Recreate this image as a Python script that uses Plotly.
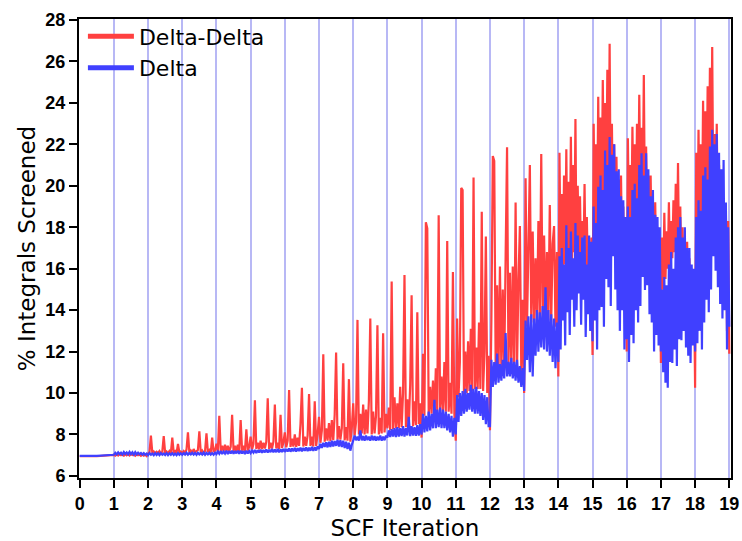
import plotly.graph_objects as go

# ---- axis ticks ----
x_ticks = list(range(0, 20))
y_ticks = [6, 8, 10, 12, 14, 16, 18, 20, 22, 24, 26, 28]

# ---- Delta-Delta (red), one list per SCF iteration ----
dd_00 = [6.95, 6.95]
dd_01 = [7.02, 6.98, 7.05, 6.99, 7.06, 7.0, 7.04, 6.98, 7.07, 7.0, 7.05, 6.99,
         7.06, 7.01, 7.04, 6.98, 7.05, 7.0, 7.03, 6.97, 7.04, 6.98, 7.02, 6.96]
dd_02 = [7.08, 7.15, 7.95, 7.1, 7.18, 7.08, 7.16, 7.1, 7.2, 7.08, 7.17, 7.92,
         7.1, 7.18, 7.09, 7.2, 7.1, 7.85, 7.12, 7.2, 7.1, 7.55, 7.12, 7.18]
dd_03 = [7.1, 7.2, 7.12, 7.28, 8.1, 7.12, 7.22, 7.1, 7.3, 7.12, 7.2, 7.25,
         8.15, 7.12, 7.22, 7.1, 7.2, 8.05, 7.15, 7.25, 7.12, 7.85, 7.15, 7.22]
dd_04 = [7.55, 7.2, 8.9, 7.2, 7.45, 7.18, 7.5, 7.2, 7.45, 7.18, 7.4, 8.95,
         7.2, 7.45, 7.18, 7.5, 7.2, 8.7, 7.22, 7.45, 7.2, 8.25, 7.22, 7.4]
dd_05 = [7.9, 7.28, 7.55, 9.65, 7.3, 7.6, 7.28, 7.7, 7.3, 7.6, 7.32, 7.65,
         9.75, 7.3, 7.6, 7.32, 7.65, 9.45, 7.33, 7.6, 7.3, 8.95, 7.35, 7.6]
dd_06 = [8.1, 7.38, 7.7, 10.15, 7.4, 7.8, 7.42, 8.0, 7.4, 7.85, 7.45, 8.5,
         10.25, 7.42, 7.9, 7.45, 7.95, 9.95, 7.45, 7.9, 7.42, 9.6, 7.45, 8.0]
dd_07 = [8.85, 7.6, 8.2, 11.87, 7.65, 8.3, 7.7, 8.55, 7.68, 8.7, 7.72, 8.95,
         11.95, 7.75, 8.4, 7.75, 8.3, 11.44, 7.72, 8.35, 7.7, 10.67, 7.65, 8.3]
dd_08 = [9.5, 7.95, 8.6, 13.53, 8.0, 9.0, 8.05, 9.45, 8.0, 9.2, 8.05, 9.6,
         13.6, 8.0, 9.1, 8.05, 8.9, 13.27, 8.0, 8.8, 8.05, 12.89, 8.1, 9.0]
dd_09 = [8.3, 9.3, 8.2, 15.38, 8.25, 9.8, 8.3, 9.5, 8.3, 10.3, 8.35, 10.0,
         15.7, 8.35, 9.7, 8.4, 10.4, 14.72, 8.4, 9.6, 8.45, 13.9, 8.5, 9.5]
dd_10 = [7.85, 11.9, 8.9, 18.24, 17.95, 8.95, 10.3, 9.0, 10.6, 9.05, 11.2, 9.1,
         18.58, 9.1, 10.8, 9.15, 11.5, 9.1, 17.34, 9.1, 10.5, 9.0, 15.84, 9.0]
dd_11 = [7.7, 13.6, 9.8, 11.5, 19.9, 19.8, 9.9, 12.0, 10.0, 12.5, 10.1, 13.1,
         10.1, 20.4, 10.2, 12.2, 10.2, 13.4, 10.2, 18.75, 10.1, 12.0, 17.55, 10.0, 11.8]
dd_12 = [8.2, 13.5, 21.44, 21.2, 11.2, 15.2, 11.0, 16.1, 11.2, 15.0, 11.1, 16.6,
         21.86, 11.3, 15.8, 11.2, 16.1, 11.3, 19.2, 11.2, 15.4, 18.06, 11.0, 14.5]
dd_13 = [10.0, 20.36, 13.2, 17.0, 21.0, 13.4, 17.8, 13.3, 16.5, 13.5, 18.3, 13.6,
         21.53, 13.6, 17.6, 13.5, 16.8, 13.5, 19.07, 13.4, 17.2, 18.06, 13.2, 16.8]
dd_14 = [10.8, 21.6, 16.0, 19.6, 15.5, 20.5, 16.2, 21.76, 15.8, 20.2, 16.5, 22.37,
         16.0, 21.0, 16.8, 23.22, 16.2, 20.0, 16.5, 19.5, 16.0, 18.3, 16.3, 20.09,
         15.8, 18.5, 15.5, 17.2, 15.2, 17.5]
dd_15 = [11.84, 23.0, 17.5, 22.0, 18.0, 24.3, 18.5, 23.3, 19.0, 25.1, 19.5, 24.0,
         19.5, 25.6, 19.0, 26.85, 18.5, 23.0, 18.0, 22.0, 17.5, 21.4, 17.0, 20.3,
         16.5, 20.5, 16.0, 19.0, 15.5, 18.5]
dd_16 = [12.0, 22.3, 18.0, 21.0, 17.5, 22.85, 18.5, 22.0, 18.0, 23.0, 19.0, 24.4,
         19.5, 22.8, 19.0, 25.35, 18.5, 21.9, 18.0, 20.5, 17.0, 20.5, 16.5, 19.0,
         16.0, 19.2, 15.5, 18.0, 15.0, 17.5]
dd_17 = [11.45, 17.5, 15.0, 18.7, 15.5, 17.8, 16.0, 19.2, 15.8, 18.3, 16.5, 19.3,
         16.8, 20.1, 16.5, 21.1, 16.0, 19.0, 15.5, 18.0, 15.0, 17.1, 14.8, 17.3,
         14.5, 16.5, 14.2, 16.0, 14.0, 15.5]
dd_18 = [10.25, 21.6, 17.0, 22.7, 17.5, 22.0, 18.0, 24.1, 18.5, 23.6, 19.0, 24.8,
         19.5, 25.7, 19.5, 26.7, 19.0, 22.5, 18.5, 23.0, 18.0, 21.0, 17.0, 20.5,
         16.5, 19.0, 15.5, 18.8, 13.0, 18.3]
dd_19 = [11.9]

# ---- Delta (blue), one list per SCF iteration ----
d_00 = [6.97, 6.97]
d_01 = [7.02, 7.12, 7.04, 7.14, 7.05, 7.12, 7.03, 7.15, 7.06, 7.13, 7.04, 7.16,
        7.05, 7.14, 7.03, 7.15, 7.04, 7.12, 7.05, 7.11, 7.03, 7.1, 7.02, 7.08]
d_02 = [7.0, 7.1, 7.02, 7.08, 7.0, 7.1, 7.01, 7.09, 7.0, 7.1, 7.02, 7.08,
        7.01, 7.1, 7.0, 7.09, 7.02, 7.1, 7.01, 7.08, 7.0, 7.1, 7.02, 7.09]
d_03 = [7.02, 7.1, 7.03, 7.12, 7.02, 7.1, 7.04, 7.12, 7.03, 7.11, 7.02, 7.12,
        7.04, 7.1, 7.03, 7.13, 7.02, 7.11, 7.04, 7.12, 7.03, 7.1, 7.02, 7.12]
d_04 = [7.05, 7.18, 7.07, 7.2, 7.06, 7.18, 7.08, 7.22, 7.06, 7.2, 7.08, 7.22,
        7.07, 7.2, 7.09, 7.22, 7.07, 7.21, 7.08, 7.2, 7.06, 7.22, 7.08, 7.2]
d_05 = [7.1, 7.22, 7.12, 7.25, 7.1, 7.24, 7.13, 7.27, 7.12, 7.25, 7.14, 7.28,
        7.13, 7.26, 7.15, 7.3, 7.14, 7.27, 7.15, 7.3, 7.14, 7.28, 7.16, 7.3]
d_06 = [7.16, 7.3, 7.18, 7.33, 7.17, 7.32, 7.19, 7.35, 7.18, 7.34, 7.2, 7.36,
        7.19, 7.35, 7.21, 7.38, 7.2, 7.36, 7.22, 7.4, 7.21, 7.38, 7.23, 7.42]
d_07 = [7.3, 7.55, 7.35, 7.6, 7.4, 7.62, 7.38, 7.65, 7.4, 7.7, 7.42, 7.68,
        7.45, 7.75, 7.42, 7.72, 7.4, 7.7, 7.35, 7.65, 7.3, 7.6, 7.22, 7.5]
d_08 = [7.7, 7.95, 7.72, 7.9, 7.7, 8.2, 7.72, 7.92, 7.7, 7.95, 7.73, 7.9,
        7.7, 7.95, 7.72, 7.92, 7.7, 7.9, 7.72, 7.95, 7.7, 7.9, 7.72, 7.95]
d_09 = [7.85, 8.2, 7.88, 8.25, 7.9, 8.3, 7.88, 8.35, 7.9, 8.3, 7.92, 8.4,
        7.9, 8.3, 7.95, 8.85, 7.92, 8.4, 7.95, 8.35, 7.93, 8.45, 7.95, 8.5]
d_10 = [8.0, 9.0, 8.1, 8.9, 8.15, 9.1, 8.2, 9.0, 8.3, 9.67, 8.3, 9.2,
        8.35, 9.3, 8.3, 9.2, 8.3, 9.1, 8.2, 9.0, 8.1, 8.9, 7.9, 8.8]
d_11 = [8.0, 9.9, 8.6, 10.0, 8.9, 10.1, 9.0, 10.2, 9.1, 10.0, 9.2, 10.4,
        9.1, 10.2, 9.0, 10.3, 9.0, 10.1, 8.9, 10.0, 8.7, 9.9, 8.5, 9.8, 8.4]
d_12 = [8.4, 11.6, 10.3, 11.5, 10.4, 11.9, 10.5, 11.4, 10.6, 11.6, 10.7, 12.9,
        10.8, 11.5, 10.8, 11.7, 10.7, 11.5, 10.6, 11.6, 10.5, 11.3, 10.3, 11.2]
d_13 = [10.1, 13.5, 11.6, 13.7, 11.0, 13.8, 10.8, 13.6, 11.8, 14.0, 12.0, 13.9,
        12.2, 14.2, 12.1, 15.1, 12.0, 14.0, 11.8, 13.8, 11.5, 13.6, 11.2, 13.4]
d_14 = [11.5, 16.6, 12.1, 17.0, 13.5, 16.2, 12.3, 18.1, 13.9, 17.0, 12.8, 17.8,
        14.5, 16.5, 13.2, 18.2, 14.0, 17.6, 14.8, 16.8, 13.3, 17.5, 14.5, 17.6,
        12.7, 16.2, 13.8, 17.6, 13.0, 17.3]
d_15 = [12.5, 19.0, 13.5, 18.2, 12.1, 19.95, 14.0, 20.5, 14.15, 19.8, 13.2, 21.7,
        15.5, 21.0, 15.1, 22.36, 14.2, 21.5, 16.6, 22.0, 15.0, 20.7, 14.0, 20.8,
        13.0, 19.5, 14.0, 19.3, 12.1, 18.5]
d_16 = [12.6, 19.0, 11.5, 18.5, 12.8, 19.8, 12.4, 20.1, 14.0, 19.4, 13.4, 21.0,
        14.2, 21.57, 15.6, 20.5, 14.97, 21.57, 15.2, 20.8, 13.8, 19.5, 13.4, 19.8,
        12.0, 18.6, 12.8, 18.5, 12.3, 18.0]
d_17 = [12.0, 15.0, 11.0, 15.6, 10.5, 15.2, 10.25, 16.2, 11.5, 16.8, 11.45, 16.0,
        12.1, 17.5, 11.3, 18.0, 12.6, 18.5, 12.55, 17.5, 13.0, 18.0, 12.2, 17.0,
        11.8, 17.0, 11.45, 16.2, 12.3, 16.0]
d_18 = [12.0, 18.5, 12.4, 19.3, 13.0, 18.8, 12.1, 20.5, 13.4, 20.9, 14.5, 20.3,
        13.9, 21.9, 15.0, 22.7, 16.6, 22.0, 15.9, 22.5, 15.1, 21.6, 14.3, 20.8,
        13.6, 21.25, 14.0, 19.2, 12.1, 18.0]
d_19 = [13.2]

dd_iters = [dd_00, dd_01, dd_02, dd_03, dd_04, dd_05, dd_06, dd_07, dd_08, dd_09,
            dd_10, dd_11, dd_12, dd_13, dd_14, dd_15, dd_16, dd_17, dd_18, dd_19]
d_iters = [d_00, d_01, d_02, d_03, d_04, d_05, d_06, d_07, d_08, d_09,
           d_10, d_11, d_12, d_13, d_14, d_15, d_16, d_17, d_18, d_19]

RED = "#ff4040"
BLUE = "#4040ff"


def flatten(iters):
    xs, ys = [], []
    for i, vals in enumerate(iters):
        n = len(vals)
        for k, v in enumerate(vals):
            xs.append(i + k / n)
            ys.append(v)
    return xs, ys


dd_x, dd_y = flatten(dd_iters)
d_x, d_y = flatten(d_iters)

fig = go.Figure()
fig.add_trace(go.Scatter(x=dd_x, y=dd_y, mode="lines", name="Delta-Delta",
                         line=dict(color=RED, width=2.2, simplify=False),
                         showlegend=False))
fig.add_trace(go.Scatter(x=d_x, y=d_y, mode="lines", name="Delta",
                         line=dict(color=BLUE, width=2.2, simplify=False),
                         showlegend=False))
# legend-only entries with thick sample lines
fig.add_trace(go.Scatter(x=[None], y=[None], mode="lines", name="Delta-Delta",
                         line=dict(color=RED, width=5), legendgroup="a"))
fig.add_trace(go.Scatter(x=[None], y=[None], mode="lines", name="Delta",
                         line=dict(color=BLUE, width=5), legendgroup="b"))

tick_font = dict(family="Liberation Sans", size=18, color="black", weight="bold")
title_font = dict(family="DejaVu Sans", size=23, color="black")

fig.update_layout(
    width=742, height=541,
    margin=dict(l=79, r=11, t=19, b=63, autoexpand=False),
    plot_bgcolor="white", paper_bgcolor="white",
    legend=dict(x=0.006, y=1.008, xanchor="left", yanchor="top",
                bgcolor="rgba(0,0,0,0)", itemwidth=46, tracegroupgap=0,
                font=dict(family="DejaVu Sans", size=22, color="black")),
    xaxis=dict(range=[-0.02, 19.05], tickvals=x_ticks, ticks="outside",
               ticklen=8, tickwidth=2, tickcolor="black", automargin=False,
               showline=True, linewidth=2, linecolor="black", mirror=True,
               showgrid=True, gridcolor="#b8b8f5", gridwidth=1.5, zeroline=False,
               tickfont=tick_font,
               title=dict(text="SCF Iteration", font=title_font, standoff=14)),
    yaxis=dict(range=[5.9, 28.05], tickvals=y_ticks, ticks="outside",
               ticklen=8, tickwidth=2, tickcolor="black", automargin=False,
               showline=True, linewidth=2, linecolor="black", mirror=True,
               showgrid=False, zeroline=False,
               tickfont=tick_font,
               title=dict(text="% Integrals Screened", font=title_font, standoff=3)),
)

fig.write_html("out.html",
               config={"displayModeBar": False},
               post_script="document.body.style.margin='0';document.body.style.overflow='hidden';")
